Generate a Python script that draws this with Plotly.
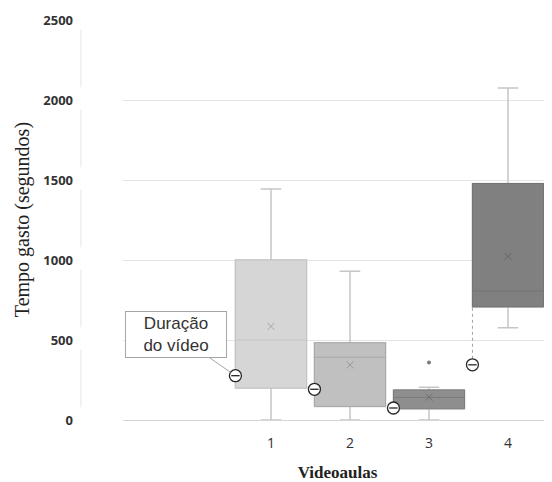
import plotly.graph_objects as go

# ---- data ----
videoaulas = [1, 2, 3, 4]
q1 = [200, 85, 70, 707]
median = [500, 392, 141, 807]
q3 = [1000, 483, 188, 1478]
lower_whisker = [0, 0, 0, 576]
upper_whisker = [1443, 929, 205, 2075]
means = [585, 344, 143, 1022]
outlier_x = [3]
outlier_y = [360]
duracao_video = [277, 192, 75, 345]
y_ticks = [0, 500, 1000, 1500, 2000, 2500]

fills = ["#d6d6d6", "#c0c0c0", "#8e8e8e", "#808080"]
outlines = ["#c4c4c4", "#a8a8a8", "#7c7c7c", "#737373"]
meancols = ["#a8a8a8", "#9a9a9a", "#6e6e6e", "#666666"]
whisker_col = "#c6c6c6"
BW = 0.9

fig = go.Figure()

for i, c in enumerate(videoaulas):
    # whiskers
    fig.add_trace(go.Box(
        x=[c], q1=[q1[i]], median=[median[i]], q3=[q3[i]],
        lowerfence=[lower_whisker[i]], upperfence=[upper_whisker[i]],
        width=BW, whiskerwidth=0.29, fillcolor=fills[i],
        line=dict(color=whisker_col, width=1.5), boxpoints=False,
        showlegend=False, hoverinfo="skip"))
    # box body with outline and median
    fig.add_trace(go.Box(
        x=[c], q1=[q1[i]], median=[median[i]], q3=[q3[i]],
        lowerfence=[q1[i]], upperfence=[q3[i]],
        width=BW, whiskerwidth=0, fillcolor=fills[i],
        line=dict(color=outlines[i], width=1), boxpoints=False,
        showlegend=False, hoverinfo="skip"))

# means
fig.add_trace(go.Scatter(
    x=videoaulas, y=means, mode="markers",
    marker=dict(symbol="x-thin", size=7, line=dict(width=1, color=meancols)),
    showlegend=False, hoverinfo="skip"))

# outlier
fig.add_trace(go.Scatter(
    x=outlier_x, y=outlier_y, mode="markers",
    marker=dict(symbol="circle", size=4, color="#7a7a7a"),
    showlegend=False, hoverinfo="skip"))

# dashed link from last video duration to its box
xd = videoaulas[3] - BW / 2
fig.add_trace(go.Scatter(
    x=[xd, xd], y=[duracao_video[3], q1[3]], mode="lines",
    line=dict(color="#a0a0a0", width=1, dash="dot"),
    showlegend=False, hoverinfo="skip"))

# clock icons for video duration
dx = [c - BW / 2 for c in videoaulas]
fig.add_trace(go.Scatter(
    x=dx, y=duracao_video, mode="markers",
    marker=dict(symbol="circle", size=12, color="white",
                line=dict(width=1.3, color="#262626")),
    showlegend=False, hoverinfo="skip"))
fig.add_trace(go.Scatter(
    x=dx, y=duracao_video, mode="markers",
    marker=dict(symbol="line-ew", size=6,
                line=dict(width=1.3, color="#262626")),
    showlegend=False, hoverinfo="skip"))

# light vertical axis segments between y labels
for t in y_ticks[:-1]:
    fig.add_shape(type="line", xref="paper", yref="y",
                  x0=-0.098, x1=-0.098, y0=t + 80, y1=t + 440,
                  line=dict(color="#e6e6e6", width=1))

fig.add_annotation(
    x=dx[0], y=duracao_video[0], xref="x", yref="y",
    text="Duração<br>do vídeo", showarrow=True, arrowhead=0,
    arrowwidth=1, arrowcolor="#a6a6a6", ax=-59, ay=-41, standoff=6,
    font=dict(family="Liberation Sans, Arial", size=17, color="#333333"),
    bgcolor="white", bordercolor="#a6a6a6", borderwidth=1,
    width=100, height=45, borderpad=0)

fig.add_annotation(
    xref="paper", yref="paper", x=-0.235, y=0.5,
    text="Tempo gasto (segundos)", textangle=-90, showarrow=False,
    xanchor="center", yanchor="middle",
    font=dict(family="Liberation Serif, Times New Roman", size=20, color="#222222"))

# the page shows the figure with an 8px offset; sizes compensate for it
fig.update_layout(
    width=544, height=474,
    margin=dict(l=115, r=0, t=12, b=60),
    plot_bgcolor="white", paper_bgcolor="white",
    boxmode="overlay",
    xaxis=dict(range=[-0.873, 4.557], tickmode="array", tickvals=videoaulas,
               ticktext=[str(v) for v in videoaulas], showgrid=False,
               zeroline=False, showline=False, ticks="",
               ticklabelstandoff=13,
               tickfont=dict(family="Open Sans, Arial", size=14, color="#333333"),
               title=dict(text="<b>Videoaulas</b>", standoff=18,
                          font=dict(family="Liberation Serif, Times New Roman", size=17, color="#222222"))),
    yaxis=dict(range=[0, 2500], tickvals=y_ticks, showgrid=True,
               gridcolor="#e4e4e4", gridwidth=1, zeroline=True,
               zerolinecolor="#d6d6d6", zerolinewidth=1, showline=False,
               ticks="", ticklabelstandoff=49,
               tickfont=dict(family="Open Sans, Arial", size=13, color="#333333", weight="bold")),
)

fig.write_html("out.html")
